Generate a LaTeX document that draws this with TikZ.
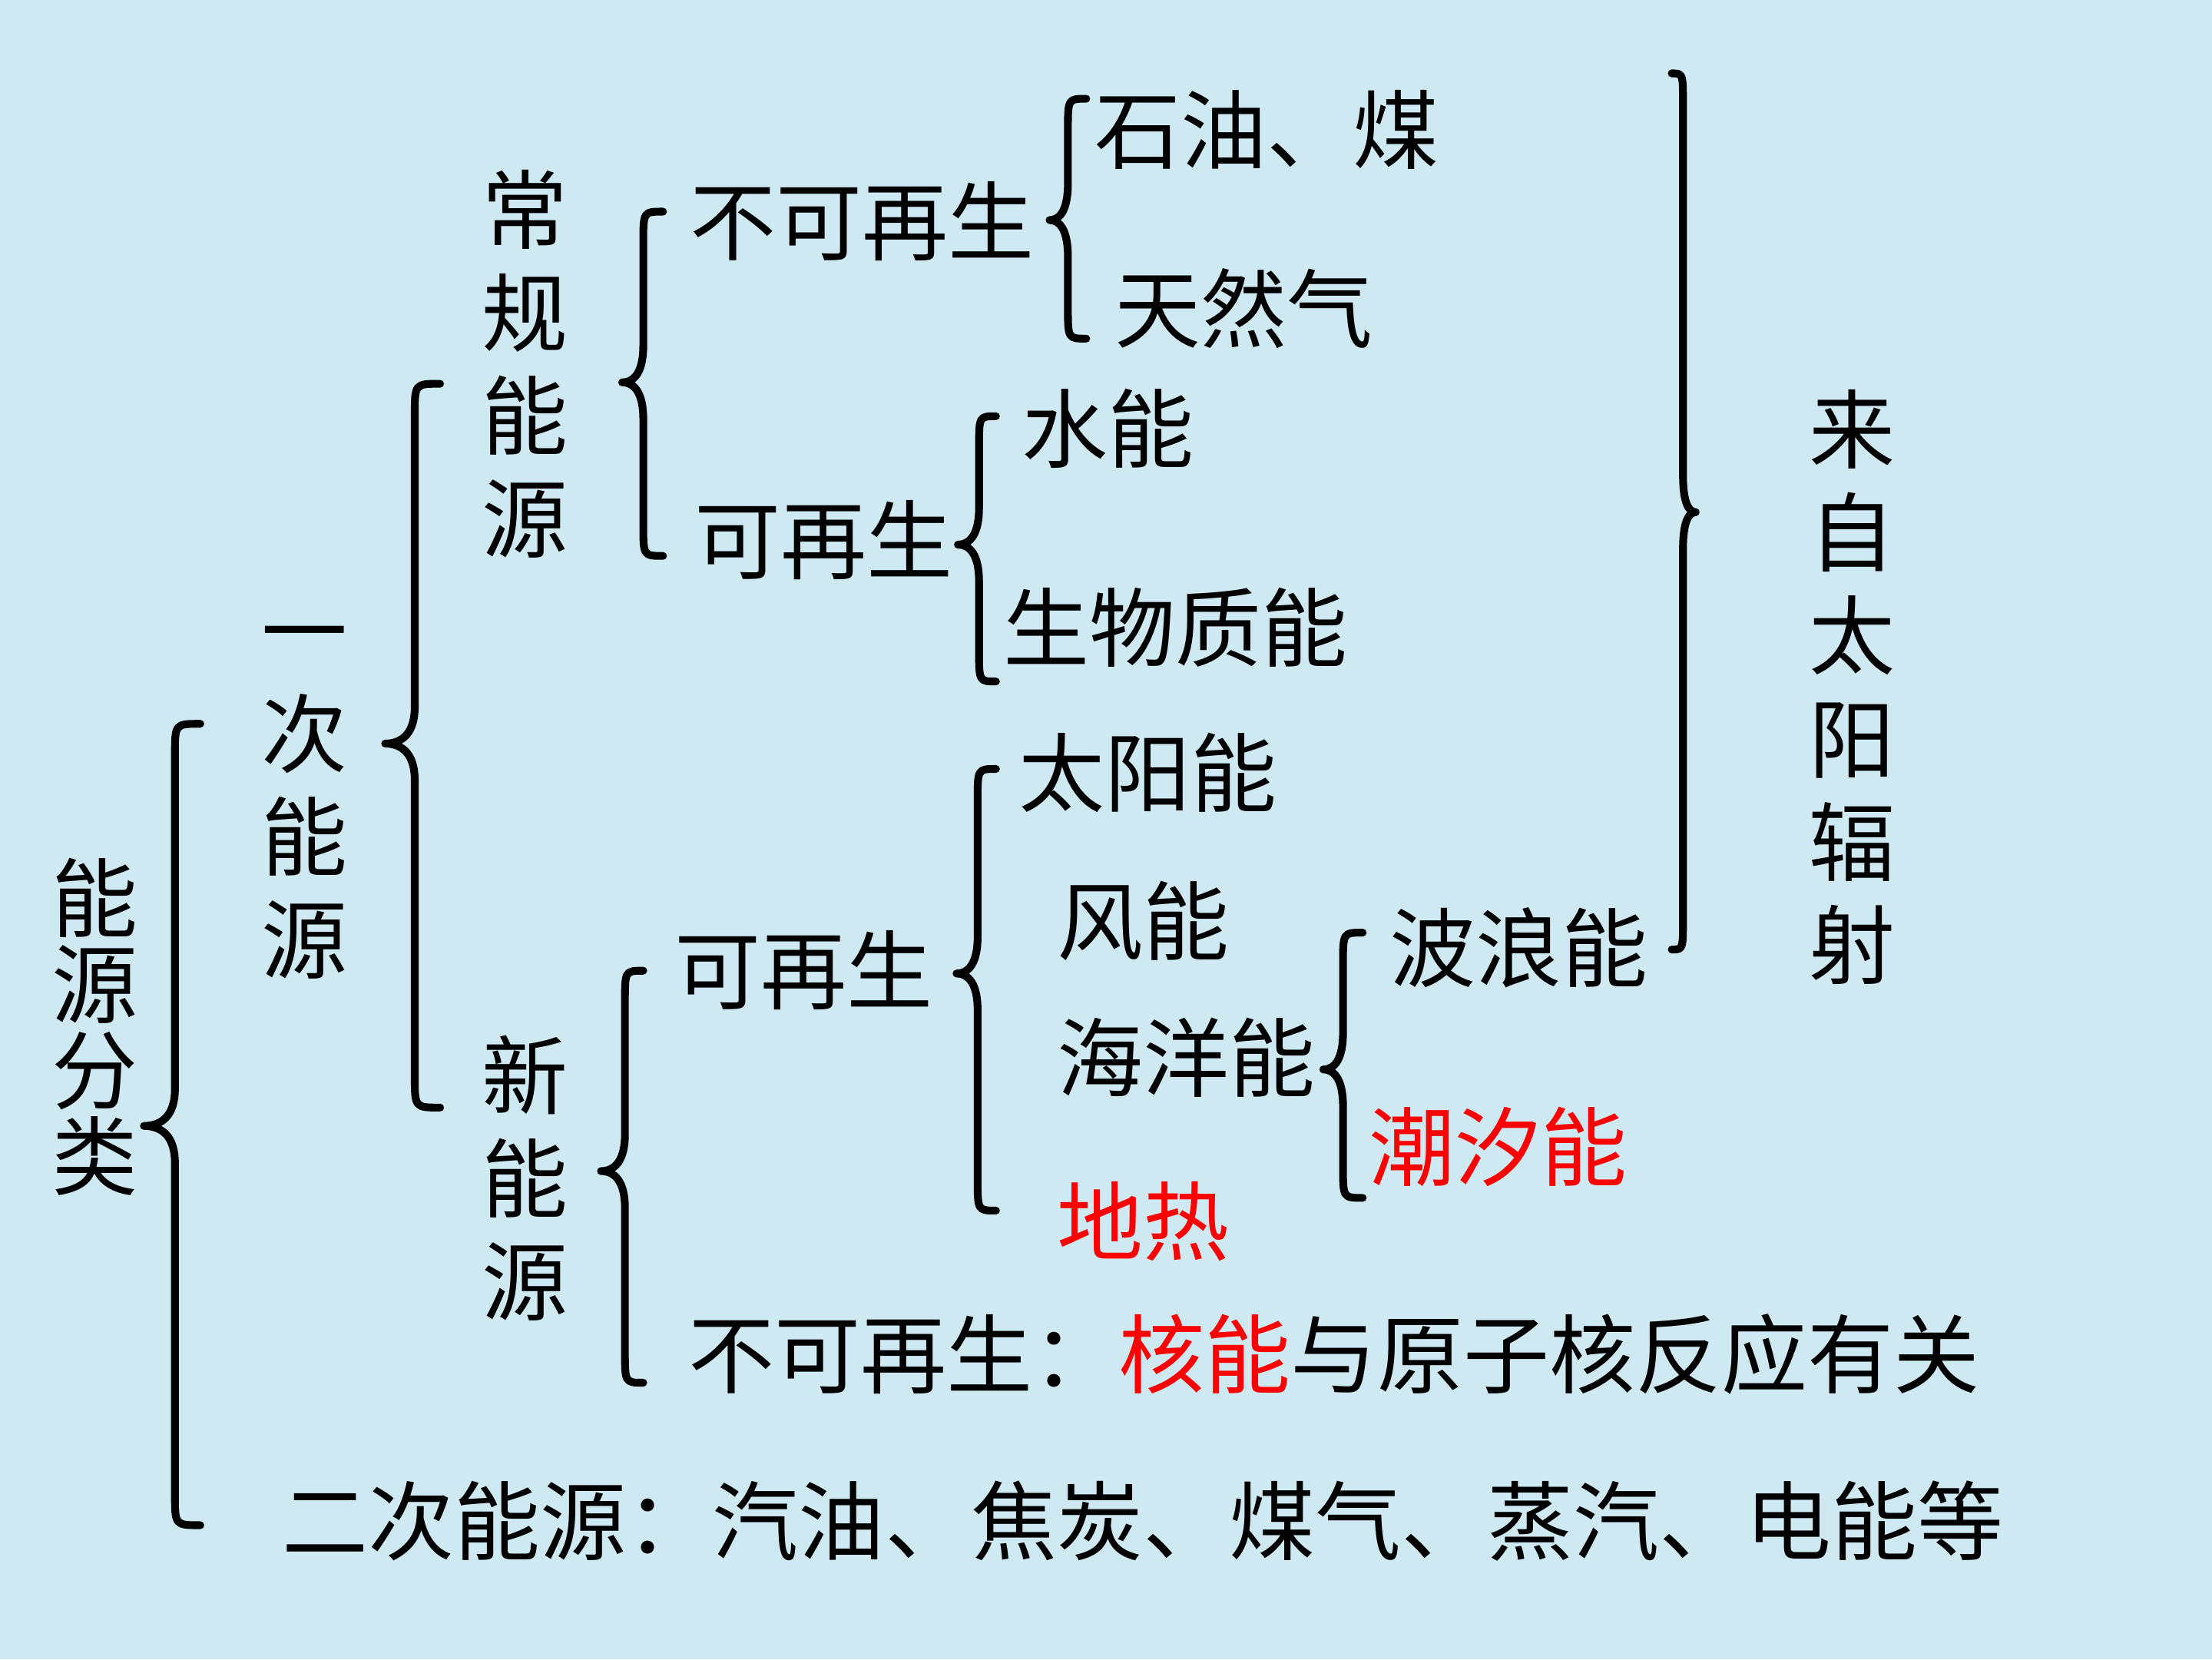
\documentclass[tikz,border=0pt]{standalone}
\usepackage{fontspec}
\setmainfont{Noto Sans CJK SC}
\definecolor{bg}{RGB}{207,233,243}
\definecolor{hl}{RGB}{255,0,0}
\tikzset{
  bracestyle/.style={line width=5.5pt, line cap=round, line join=round, black},
  htext/.style={anchor=west, inner sep=0pt, font=\fontsize{61}{73}\selectfont, text height=49pt, text depth=3pt},
  vtext/.style={inner sep=0pt, align=center, font=\fontsize{61}{73}\selectfont},
  vtight/.style={inner sep=0pt, align=center, font=\fontsize{61}{61}\selectfont},
}
% x, top, tip y, bottom, hook width (neg = right brace), tip depth
\newcommand{\Brc}[6]{%
  \draw[bracestyle] ({#1+#5},#2) .. controls (#1,#2) .. (#1,{#2+22})
    -- (#1,{#3-26}) .. controls (#1,{#3-8}) and ({#1-0.4*#6},#3) .. ({#1-#6},#3)
    .. controls ({#1-0.4*#6},#3) and (#1,{#3+8}) .. (#1,{#3+26})
    -- (#1,{#4-22}) .. controls (#1,#4) .. ({#1+#5},#4);}
\begin{document}
\begin{tikzpicture}[x=1pt,y=-1pt]
\fill[bg] (0,0) rectangle (1568,1176);
\useasboundingbox (0,0) rectangle (1568,1176);

% vertical labels
\node[vtight] (nyfl) at (67,728) {能\\源\\分\\类};
\node[vtext] (ycny) at (216,569) {一\\次\\能\\源};
\node[vtext] (cgny) at (372,258) {常\\规\\能\\源};
\node[vtext] (xny) at (372,835) {新\\能\\源};
\node[vtext] (lzty) at (1313,487) {来\\自\\太\\阳\\辐\\射};

% horizontal labels
\node[htext] (bkzs1) at (489,157) {不可再生};
\node[htext] (syme) at (776,92) {石油、煤};
\node[htext] (trq) at (790,219) {天然气};
\node[htext] (kzs1) at (492,383) {可再生};
\node[htext] (sn) at (724,304) {水能};
\node[htext] (swzn) at (711,445) {生物质能};
\node[htext] (kzs2) at (478,688) {可再生};
\node[htext] (tyn) at (722,548) {太阳能};
\node[htext] (fn) at (749,653) {风能};
\node[htext] (hyn) at (749,750) {海洋能};
\node[htext, text=hl] (dr) at (749,866) {地热};
\node[htext] (bln) at (985,672) {波浪能};
\node[htext, text=hl] (cxn) at (970,813) {潮汐能};
\node[htext] (bkzs2) at (488,960) {不可再生：\textcolor{hl}{核能}与原子核反应有关};
\node[htext] (ecny) at (200,1078) {二次能源：汽油、焦炭、煤气、蒸汽、电能等};

% braces
\Brc{124}{513}{798}{1081}{18}{22}
\Brc{294}{272}{527}{785}{18}{21}
\Brc{456}{150}{271}{394}{14}{15}
\Brc{757}{70}{156}{240}{13}{13}
\Brc{694}{295}{386}{483}{12}{15}
\Brc{443}{688}{830}{980}{13}{17}
\Brc{693}{545}{690}{858}{13}{15}
\Brc{952}{661}{758}{849}{14}{14}
\Brc{1193}{52}{363}{673}{-8}{-9}
\end{tikzpicture}
\end{document}
